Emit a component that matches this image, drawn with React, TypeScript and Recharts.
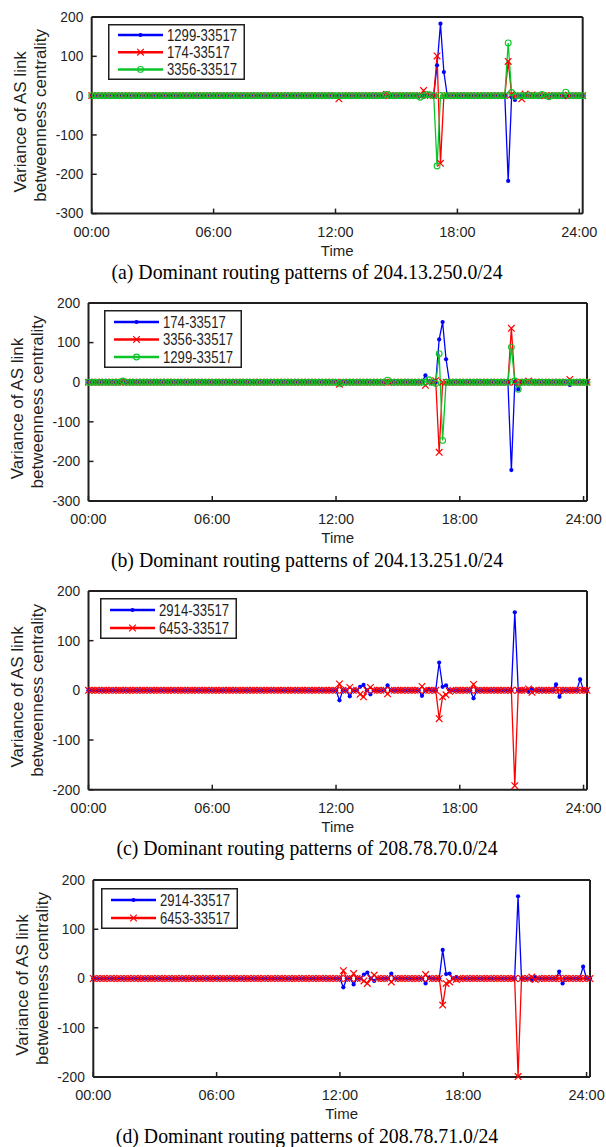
import { LineChart, Line, XAxis, YAxis, Legend } from 'recharts'

type Spike = [string, number]
type Marker = 'dot' | 'cross' | 'ring'

const hourTicks = [0, 6, 12, 18, 24]
const hourLabels = ['00:00', '06:00', '12:00', '18:00', '24:00']
const sampleStep = 10 // minutes between samples
const lastSample = 24 * 60 + 10

const yTicksWide = [-300, -200, -100, 0, 100, 200]
const yTicksNarrow = [-200, -100, 0, 100, 200]

// values that are not listed sit on 0
// (a) 204.13.250.0/24
const a1299: Spike[] = [['17:00', 77], ['17:10', 183], ['17:20', 60], ['20:30', -217], ['20:40', -4], ['20:50', -11], ['23:20', -4]]
const a174: Spike[] = [['12:10', -8], ['14:30', 3], ['16:20', 13], ['16:30', 2], ['17:00', 101], ['17:10', -172], ['20:30', 87], ['20:40', 3], ['21:10', -8], ['21:20', 4], ['21:40', 2]]
const a3356: Spike[] = [['14:30', 3], ['16:10', -4], ['16:30', 3], ['16:40', 2], ['17:00', -179], ['20:30', 134], ['20:40', 8], ['20:50', -2], ['22:10', 3], ['22:30', -3], ['23:20', 9]]

// (b) 204.13.251.0/24
const b174: Spike[] = [['16:20', 17], ['17:00', 108], ['17:10', 152], ['17:20', 58], ['20:30', -222], ['20:50', -18], ['23:20', -7]]
const b3356: Spike[] = [['12:10', -5], ['16:20', -8], ['16:50', 4], ['17:00', -177], ['20:30', 136], ['21:20', 3], ['23:20', 7]]
const b1299: Spike[] = [['01:40', 3], ['12:10', -3], ['14:30', 5], ['16:30', 6], ['16:50', -3], ['17:00', 72], ['17:10', -147], ['20:30', 88], ['20:40', 3], ['20:50', -18]]

// (c) 208.78.70.0/24
const c2914: Spike[] = [['12:10', -20], ['12:40', -12], ['13:10', 7], ['13:20', 11], ['13:40', -8], ['14:30', 10], ['16:10', -11], ['16:30', 2], ['17:00', 56], ['17:10', 7], ['17:20', 10], ['18:40', -16], ['20:40', 157], ['21:20', -3], ['21:30', 3], ['22:40', 12], ['22:50', -13], ['23:50', 22]]
const c6453: Spike[] = [['12:10', 13], ['12:40', 6], ['13:10', -8], ['13:20', -13], ['13:40', 6], ['14:30', -7], ['16:10', 8], ['17:00', -57], ['17:10', -13], ['17:20', -9], ['17:30', -2], ['18:40', 12], ['20:40', -192], ['21:20', 3], ['21:30', -4]]

// (d) 208.78.71.0/24
const d2914: Spike[] = [['12:10', -18], ['12:40', -12], ['13:10', 8], ['13:20', 12], ['13:40', -5], ['14:30', 10], ['16:10', -10], ['16:20', 2], ['17:00', 58], ['17:10', 9], ['17:20', 10], ['17:40', 3], ['20:40', 167], ['21:20', -3], ['21:30', 3], ['22:40', 14], ['22:50', -10], ['23:50', 24]]
const d6453: Spike[] = [['12:10', 16], ['12:40', 10], ['13:10', -5], ['13:20', -10], ['13:40', 7], ['14:30', -7], ['16:10', 8], ['17:00', -54], ['17:10', -10], ['17:20', -7], ['17:40', -2], ['20:40', -199], ['21:20', 3], ['21:30', -2]]

const BLUE = '#0000ff'
const RED = '#ff0000'
const GREEN = '#0cc52a'
const INK = '#1f1f1f'
const SANS = "'Liberation Sans', Arial, sans-serif"
const SERIF = "'Liberation Serif', 'Times New Roman', serif"

interface Series { key: string; name: string; color: string; marker: Marker; spikes: Spike[] }

interface Panel {
  caption: string
  plot: { left: number; top: number; right: number; bottom: number }
  yDomain: [number, number]
  yTicks: number[]
  legend: { dx: number; dy: number; w: number; h: number; row0: number; gap: number }
  series: Series[]
}

const panels: Panel[] = [
  {
    caption: '(a) Dominant routing patterns of 204.13.250.0/24',
    plot: { left: 91.7, top: 16.7, right: 582.7, bottom: 213.3 },
    yDomain: [-300, 200],
    yTicks: yTicksWide,
    legend: { dx: 16.6, dy: 7.3, w: 137, h: 56, row0: 11, gap: 17.2 },
    series: [
      { key: 's1299', name: '1299-33517', color: BLUE, marker: 'dot', spikes: a1299 },
      { key: 's174', name: '174-33517', color: RED, marker: 'cross', spikes: a174 },
      { key: 's3356', name: '3356-33517', color: GREEN, marker: 'ring', spikes: a3356 },
    ],
  },
  {
    caption: '(b) Dominant routing patterns of 204.13.251.0/24',
    plot: { left: 88.5, top: 303, right: 587, bottom: 501 },
    yDomain: [-300, 200],
    yTicks: yTicksWide,
    legend: { dx: 15.5, dy: 6.5, w: 138, h: 58, row0: 12, gap: 17.5 },
    series: [
      { key: 's174', name: '174-33517', color: BLUE, marker: 'dot', spikes: b174 },
      { key: 's3356', name: '3356-33517', color: RED, marker: 'cross', spikes: b3356 },
      { key: 's1299', name: '1299-33517', color: GREEN, marker: 'ring', spikes: b1299 },
    ],
  },
  {
    caption: '(c) Dominant routing patterns of 208.78.70.0/24',
    plot: { left: 88.5, top: 590.6, right: 587, bottom: 789.3 },
    yDomain: [-200, 200],
    yTicks: yTicksNarrow,
    legend: { dx: 11, dy: 7.4, w: 137, h: 41, row0: 12, gap: 18 },
    series: [
      { key: 's2914', name: '2914-33517', color: BLUE, marker: 'dot', spikes: c2914 },
      { key: 's6453', name: '6453-33517', color: RED, marker: 'cross', spikes: c6453 },
    ],
  },
  {
    caption: '(d) Dominant routing patterns of 208.78.71.0/24',
    plot: { left: 93.3, top: 880, right: 590, bottom: 1077 },
    yDomain: [-200, 200],
    yTicks: yTicksNarrow,
    legend: { dx: 8, dy: 8, w: 137, h: 41, row0: 12, gap: 18 },
    series: [
      { key: 's2914', name: '2914-33517', color: BLUE, marker: 'dot', spikes: d2914 },
      { key: 's6453', name: '6453-33517', color: RED, marker: 'cross', spikes: d6453 },
    ],
  },
]

const toMin = (s: string) => {
  const [h, m] = s.split(':').map(Number)
  return h * 60 + m
}

function buildRows(series: Series[]) {
  const rows: Record<string, number>[] = []
  for (let m = 0; m <= lastSample; m += sampleStep) {
    const row: Record<string, number> = { t: m / 60 }
    series.forEach((s) => (row[s.key] = 0))
    rows.push(row)
  }
  series.forEach((s) => s.spikes.forEach(([time, v]) => (rows[toMin(time) / sampleStep][s.key] = v)))
  return rows
}

function MarkerShape({ kind, cx, cy, color }: { kind: Marker; cx: number; cy: number; color: string }) {
  if (kind === 'dot') return <circle cx={cx} cy={cy} r={2.1} fill={color} />
  if (kind === 'ring') return <circle cx={cx} cy={cy} r={2.9} fill="none" stroke={color} strokeWidth={1.1} />
  const s = 3.3
  return (
    <path
      d={`M${cx - s},${cy - s}L${cx + s},${cy + s}M${cx - s},${cy + s}L${cx + s},${cy - s}`}
      stroke={color}
      strokeWidth={1.2}
      fill="none"
    />
  )
}

const dotRenderer = (kind: Marker, color: string) => (p: any) => {
  if (p.cx == null || p.cy == null) return <g key={p.index} />
  return (
    <g key={p.index}>
      <MarkerShape kind={kind} cx={p.cx} cy={p.cy} color={color} />
    </g>
  )
}

function YTitle({ cx1, cx2, cy }: { cx1: number; cx2: number; cy: number }) {
  const style = { fontFamily: SANS, fontSize: 17, fill: INK }
  return (
    <g>
      <text transform={`translate(${cx1},${cy + 6.5}) rotate(-90)`} textAnchor="middle" style={style}>
        Variance of AS link
      </text>
      <text transform={`translate(${cx2},${cy}) rotate(-90)`} textAnchor="middle" style={style}>
        betweenness centrality
      </text>
    </g>
  )
}

const PAD_TOP = 16
const PAD_BOTTOM = 75
const AX = 1 // axis band size kept minimal so the frame sits on the plot edge

function PanelChart({ panel }: { panel: Panel }) {
  const { plot, legend, series } = panel
  const plotH = plot.bottom - plot.top
  const height = PAD_TOP + plotH + PAD_BOTTOM
  const rows = buildRows(series)
  const domainX: [number, number] = [0, lastSample / 60]

  const legendContent = () => (
    <svg width={legend.w} height={legend.h} style={{ display: 'block' }}>
      <rect x={0.75} y={0.75} width={legend.w - 1.5} height={legend.h - 1.5} fill="#fff" stroke={INK} strokeWidth={1.5} />
      {series.map((s, i) => {
        const y = legend.row0 + i * legend.gap
        return (
          <g key={s.key}>
            <line x1={10} x2={55} y1={y} y2={y} stroke={s.color} strokeWidth={2.5} />
            <MarkerShape kind={s.marker} cx={32.5} cy={y} color={s.color} />
            <text
              transform={`translate(59 ${y + 5.7}) scale(0.82 1)`}
              style={{ fontFamily: SANS, fontSize: 16, fill: INK }}
            >
              {s.name}
            </text>
          </g>
        )
      })}
    </svg>
  )

  return (
    <div style={{ position: 'absolute', left: 0, top: plot.top - PAD_TOP }}>
      <LineChart
        width={606}
        height={height}
        data={rows}
        margin={{ top: PAD_TOP - AX, left: plot.left - AX, right: 606 - plot.right - AX, bottom: PAD_BOTTOM - AX }}
      >
        <XAxis
          dataKey="t"
          type="number"
          domain={domainX}
          ticks={hourTicks}
          interval={0}
          height={AX}
          tickFormatter={(v: number) => hourLabels[hourTicks.indexOf(v)]}
          tickSize={-5}
          tickMargin={17.7}
          stroke={INK}
          axisLine={{ stroke: INK, strokeWidth: 2 }}
          tickLine={{ stroke: INK, strokeWidth: 1.5 }}
          tick={{ fill: INK, fontSize: 14.5, fontFamily: SANS }}
          label={{ value: 'Time', position: 'bottom', offset: 30.3, fill: INK, fontSize: 15, fontFamily: SANS }}
        />
        <XAxis
          xAxisId="top"
          orientation="top"
          dataKey="t"
          type="number"
          domain={domainX}
          ticks={hourTicks}
          interval={0}
          height={AX}
          tick={false}
          tickSize={-5}
          stroke={INK}
          axisLine={{ stroke: INK, strokeWidth: 2 }}
          tickLine={{ stroke: INK, strokeWidth: 1.5 }}
        />
        <YAxis
          type="number"
          domain={panel.yDomain}
          ticks={panel.yTicks}
          interval={0}
          width={AX}
          tickSize={-5}
          tickMargin={13.4}
          stroke={INK}
          axisLine={{ stroke: INK, strokeWidth: 2 }}
          tickLine={{ stroke: INK, strokeWidth: 1.5 }}
          tick={{ fill: INK, fontSize: 13.8, fontFamily: SANS }}
          label={<YTitle cx1={plot.left - 65.5} cx2={plot.left - 45.5} cy={PAD_TOP + plotH / 2} />}
        />
        <YAxis
          yAxisId="right"
          orientation="right"
          type="number"
          domain={panel.yDomain}
          ticks={panel.yTicks}
          interval={0}
          width={AX}
          tick={false}
          tickSize={-5}
          stroke={INK}
          axisLine={{ stroke: INK, strokeWidth: 2 }}
          tickLine={{ stroke: INK, strokeWidth: 1.5 }}
        />
        {series.map((s) => (
          <Line
            key={s.key}
            type="linear"
            dataKey={s.key}
            name={s.name}
            stroke={s.color}
            strokeWidth={1.3}
            dot={dotRenderer(s.marker, s.color)}
            activeDot={false}
            isAnimationActive={false}
          />
        ))}
        <Legend
          layout="vertical"
          align="center"
          verticalAlign="middle"
          content={legendContent}
          wrapperStyle={{
            left: plot.left + legend.dx,
            top: PAD_TOP + legend.dy,
            width: legend.w,
            height: legend.h,
          }}
        />
      </LineChart>
    </div>
  )
}

export default function App() {
  return (
    <div style={{ position: 'absolute', left: 0, top: 0, width: 606, height: 1147, background: '#fff', overflow: 'hidden' }}>
      {panels.map((p) => (
        <PanelChart key={p.caption} panel={p} />
      ))}
      <svg width={606} height={1147} style={{ position: 'absolute', left: 0, top: 0, pointerEvents: 'none' }}>
        {panels.map((p) => (
          <text
            key={p.caption}
            transform={`translate(307 ${p.plot.bottom + 66}) scale(0.9 1)`}
            textAnchor="middle"
            style={{ fontFamily: SERIF, fontSize: 22, fill: '#000' }}
          >
            {p.caption}
          </text>
        ))}
      </svg>
    </div>
  )
}
